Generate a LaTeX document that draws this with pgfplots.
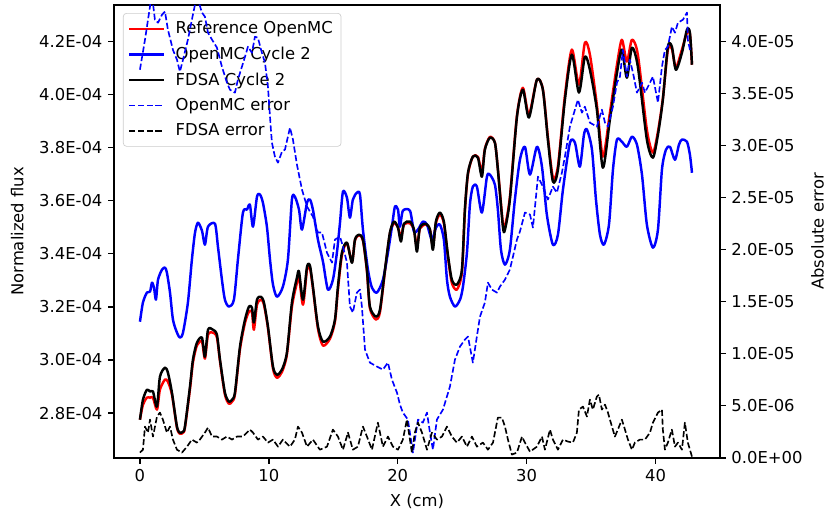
\documentclass[border=0pt]{standalone}
\usepackage{fontspec}
\setmainfont{DejaVu Sans}
\usepackage{pgfplots}
\usepackage{pgfplotstable}
\pgfplotsset{compat=1.18}

% Flux profiles (x in cm, flux in units of 1E-04)
\pgfplotstableread{
x y
0.00 2.775
0.23 2.831
0.54 2.858
0.78 2.858
1.01 2.858
1.32 2.813
1.55 2.888
1.94 2.926
2.17 2.918
2.48 2.870
2.87 2.745
3.10 2.722
3.34 2.726
3.49 2.745
3.88 2.890
4.11 2.990
4.42 3.055
4.81 3.069
5.04 3.005
5.28 3.095
5.66 3.103
5.97 3.085
6.21 2.995
6.59 2.870
6.90 2.835
7.14 2.843
7.37 2.870
7.76 3.040
8.15 3.140
8.46 3.182
8.69 3.180
8.84 3.114
9.08 3.208
9.39 3.227
9.62 3.208
9.93 3.120
10.32 2.968
10.63 2.933
11.02 2.955
11.40 3.020
11.79 3.200
12.18 3.291
12.34 3.315
12.65 3.208
12.96 3.340
13.19 3.345
13.42 3.270
13.81 3.118
14.20 3.054
14.74 3.080
15.13 3.145
15.36 3.265
15.67 3.395
16.06 3.440
16.45 3.370
16.68 3.450
16.99 3.470
17.30 3.450
17.61 3.335
17.84 3.195
18.31 3.152
18.62 3.180
19.01 3.335
19.39 3.475
19.71 3.515
20.02 3.500
20.25 3.460
20.48 3.510
20.95 3.515
21.26 3.490
21.49 3.425
21.72 3.495
22.19 3.510
22.50 3.490
22.73 3.430
22.96 3.515
23.27 3.548
23.58 3.515
23.89 3.390
24.20 3.290
24.59 3.265
24.98 3.330
25.21 3.560
25.45 3.700
25.83 3.766
26.22 3.765
26.53 3.709
26.76 3.795
27.15 3.840
27.54 3.818
27.77 3.720
28.16 3.512
28.32 3.505
28.70 3.612
29.25 3.920
29.71 4.025
30.18 3.924
30.80 4.056
31.26 4.020
31.65 3.840
32.04 3.687
32.43 3.730
32.97 3.995
33.51 4.169
34.06 4.037
34.52 4.195
34.91 4.150
35.45 3.961
35.92 3.766
36.46 3.930
37.01 4.112
37.39 4.206
37.78 4.124
38.17 4.206
38.63 4.150
39.33 3.867
39.80 3.781
40.19 3.860
40.57 3.985
40.96 4.169
41.27 4.172
41.58 4.101
42.05 4.169
42.44 4.233
42.67 4.228
42.83 4.112
}\refflux

\pgfplotstableread{
x y
0.00 3.144
0.23 3.216
0.54 3.254
0.78 3.257
0.93 3.291
1.09 3.272
1.24 3.227
1.40 3.302
1.71 3.340
1.94 3.348
2.09 3.329
2.33 3.254
2.56 3.152
2.87 3.103
3.10 3.084
3.34 3.103
3.72 3.216
4.03 3.378
4.27 3.479
4.50 3.517
4.81 3.487
5.04 3.434
5.28 3.502
5.82 3.513
6.05 3.427
6.36 3.302
6.59 3.227
6.90 3.201
7.29 3.227
7.60 3.378
7.99 3.555
8.30 3.566
8.53 3.585
8.77 3.502
9.08 3.615
9.31 3.623
9.54 3.592
9.85 3.502
10.09 3.378
10.32 3.284
10.63 3.238
11.09 3.276
11.48 3.378
11.79 3.604
12.02 3.615
12.34 3.566
12.57 3.491
12.96 3.592
13.19 3.604
13.42 3.566
13.81 3.453
14.20 3.370
14.58 3.265
14.97 3.302
15.28 3.404
15.52 3.517
15.75 3.634
16.06 3.611
16.29 3.536
16.52 3.604
16.83 3.630
17.07 3.623
17.30 3.491
17.69 3.340
18.00 3.272
18.39 3.254
18.85 3.302
19.24 3.404
19.55 3.502
19.78 3.577
20.02 3.566
20.17 3.502
20.40 3.562
20.95 3.562
21.26 3.483
21.57 3.491
21.95 3.521
22.27 3.510
22.65 3.453
22.96 3.498
23.27 3.510
23.58 3.453
23.82 3.302
24.05 3.238
24.44 3.201
24.83 3.227
25.06 3.276
25.37 3.404
25.60 3.585
25.83 3.653
26.14 3.653
26.53 3.555
26.92 3.690
27.15 3.698
27.54 3.660
27.77 3.566
28.01 3.415
28.32 3.359
28.70 3.415
29.09 3.604
29.48 3.754
29.87 3.803
30.26 3.698
30.80 3.803
31.19 3.728
31.57 3.547
32.04 3.434
32.43 3.472
32.82 3.642
33.36 3.818
33.75 3.818
34.13 3.728
34.45 3.849
34.68 3.868
35.07 3.792
35.38 3.604
35.69 3.472
36.00 3.434
36.39 3.510
36.70 3.717
37.01 3.830
37.39 3.822
37.78 3.803
38.17 3.841
38.56 3.811
38.95 3.698
39.33 3.510
39.80 3.423
40.19 3.491
40.50 3.717
40.81 3.792
41.12 3.803
41.51 3.754
41.82 3.811
42.05 3.830
42.44 3.822
42.67 3.773
42.83 3.705
}\mcflux

\pgfplotstableread{
x y
0.00 2.775
0.23 2.850
0.54 2.888
0.78 2.881
1.01 2.881
1.32 2.824
1.55 2.937
1.94 2.971
2.17 2.952
2.48 2.877
2.87 2.749
3.10 2.726
3.34 2.730
3.49 2.749
3.88 2.899
4.11 3.001
4.42 3.065
4.81 3.084
5.04 3.012
5.28 3.114
5.66 3.114
5.97 3.095
6.21 3.001
6.59 2.877
6.90 2.843
7.14 2.850
7.37 2.877
7.76 3.050
8.15 3.152
8.46 3.201
8.69 3.197
8.84 3.141
9.08 3.227
9.39 3.238
9.62 3.216
9.93 3.126
10.32 2.975
10.63 2.944
11.02 2.964
11.40 3.027
11.79 3.216
12.18 3.310
12.34 3.333
12.65 3.227
12.96 3.351
13.19 3.355
13.42 3.276
13.81 3.126
14.20 3.069
14.74 3.088
15.13 3.152
15.36 3.276
15.67 3.404
16.06 3.442
16.45 3.366
16.68 3.453
16.99 3.472
17.30 3.453
17.61 3.340
17.84 3.201
18.31 3.163
18.62 3.189
19.01 3.340
19.39 3.479
19.71 3.521
20.02 3.498
20.25 3.446
20.48 3.513
20.95 3.521
21.26 3.491
21.49 3.408
21.72 3.498
22.19 3.513
22.50 3.491
22.73 3.415
22.96 3.521
23.27 3.555
23.58 3.521
23.89 3.397
24.20 3.302
24.59 3.284
24.98 3.340
25.21 3.566
25.45 3.705
25.83 3.766
26.22 3.762
26.53 3.690
26.76 3.792
27.15 3.837
27.54 3.818
27.77 3.717
28.16 3.502
28.32 3.491
28.70 3.604
29.25 3.916
29.71 4.018
30.18 3.913
30.80 4.056
31.26 4.018
31.65 3.830
32.04 3.672
32.43 3.717
32.97 3.980
33.51 4.150
34.06 4.007
34.52 4.142
34.91 4.093
35.45 3.943
35.92 3.724
36.46 3.905
37.01 4.082
37.39 4.169
37.78 4.063
38.17 4.176
38.63 4.105
39.33 3.830
39.80 3.762
40.19 3.849
40.57 3.980
40.96 4.180
41.27 4.180
41.58 4.093
42.05 4.157
42.44 4.244
42.67 4.233
42.83 4.112
}\fdsaflux

% Absolute errors (x in cm, error in units of 1E-05)
\pgfplotstableread{
x y
0.00 3.728
0.39 4.016
0.78 4.335
0.93 4.450
1.16 4.208
1.40 4.179
1.71 4.256
1.94 4.285
2.17 4.112
2.56 3.918
2.87 3.824
3.10 3.709
3.34 3.824
3.72 4.016
4.03 4.208
4.27 4.353
4.50 4.400
4.81 4.276
5.04 4.237
5.28 4.083
5.59 4.016
5.97 3.940
6.36 3.756
6.75 3.603
6.98 3.536
7.37 3.507
7.60 3.632
7.91 3.756
8.15 3.852
8.38 3.949
8.69 3.890
8.92 4.044
9.15 4.035
9.46 3.890
9.70 3.795
9.93 3.564
10.16 3.152
10.24 3.027
10.47 2.893
10.71 2.835
11.02 2.941
11.25 2.960
11.64 3.171
11.87 3.056
12.18 2.816
12.57 2.576
12.96 2.414
13.42 2.317
13.81 2.164
14.12 2.164
14.51 1.971
14.90 1.875
15.13 2.097
15.52 2.125
15.75 2.030
16.06 1.875
16.29 1.453
16.52 1.395
16.83 1.587
17.07 1.616
17.22 1.453
17.46 1.040
17.84 0.915
18.39 0.877
18.85 0.848
19.24 0.915
19.55 0.752
19.94 0.627
20.17 0.512
20.40 0.435
20.79 0.368
21.18 0.051
21.57 0.368
21.95 0.339
22.27 0.435
22.50 0.243
22.73 0.079
23.04 0.368
23.51 0.464
24.05 0.685
24.44 0.944
24.83 1.069
25.21 1.136
25.45 1.165
25.83 0.915
26.14 1.165
26.38 1.356
26.76 1.491
27.00 1.683
27.31 1.616
27.70 1.587
27.93 1.645
28.32 1.712
28.70 1.808
28.94 1.933
29.25 2.097
29.48 2.173
29.87 2.356
30.26 2.337
30.49 2.212
30.88 2.701
31.26 2.605
31.65 2.481
32.04 2.605
32.35 2.547
32.74 2.740
32.97 2.893
33.36 3.181
33.75 3.344
33.98 3.440
34.29 3.315
34.52 3.373
34.91 3.219
35.45 3.181
35.84 3.344
36.08 3.219
36.31 3.181
36.70 3.373
37.01 3.603
37.24 3.661
37.47 3.918
37.78 3.661
38.01 3.824
38.25 3.699
38.56 3.507
38.95 3.603
39.18 3.507
39.57 3.603
39.80 3.661
40.19 3.411
40.50 3.756
40.73 3.918
40.96 3.949
41.27 4.140
41.51 4.083
41.74 4.179
42.13 4.208
42.44 4.276
42.51 4.016
42.67 3.918
}\mcerr

\pgfplotstableread{
x y
0.00 0.051
0.23 0.079
0.39 0.301
0.62 0.243
0.78 0.368
1.01 0.205
1.32 0.397
1.55 0.435
1.78 0.368
2.09 0.243
2.33 0.301
2.56 0.176
2.87 0.079
3.26 0.051
3.65 0.108
4.03 0.176
4.42 0.147
4.65 0.176
5.04 0.243
5.28 0.291
5.59 0.205
5.97 0.205
6.36 0.176
6.75 0.205
7.14 0.176
7.53 0.205
7.99 0.205
8.53 0.272
8.77 0.243
9.15 0.176
9.54 0.205
9.93 0.147
10.32 0.176
10.71 0.108
11.09 0.176
11.64 0.108
12.02 0.176
12.26 0.301
12.57 0.243
12.96 0.108
13.42 0.176
13.96 0.079
14.51 0.108
14.97 0.272
15.36 0.205
15.75 0.079
16.14 0.243
16.52 0.079
16.91 0.108
17.30 0.301
17.61 0.205
18.00 0.079
18.46 0.339
18.85 0.108
19.24 0.205
19.63 0.108
20.02 0.079
20.40 0.176
20.71 0.368
21.10 0.051
21.33 0.243
21.57 0.339
21.88 0.243
22.27 0.079
22.65 0.243
23.04 0.176
23.43 0.205
23.82 0.301
24.20 0.205
24.59 0.147
24.98 0.205
25.37 0.108
25.76 0.205
26.14 0.108
26.61 0.147
27.00 0.079
27.39 0.147
27.77 0.387
28.08 0.387
28.32 0.301
28.55 0.176
28.86 0.032
29.25 0.051
29.64 0.205
29.87 0.147
30.26 0.060
30.80 0.108
31.19 0.205
31.42 0.079
31.81 0.272
32.04 0.176
32.43 0.079
32.82 0.176
33.20 0.157
33.59 0.147
33.90 0.243
34.06 0.464
34.37 0.493
34.68 0.397
34.91 0.560
35.14 0.464
35.45 0.589
35.61 0.608
35.84 0.464
36.08 0.512
36.31 0.435
36.62 0.301
36.85 0.205
37.08 0.272
37.39 0.368
37.63 0.272
37.86 0.176
38.17 0.079
38.40 0.147
38.79 0.176
39.18 0.176
39.57 0.243
39.80 0.339
40.19 0.435
40.50 0.464
40.57 0.272
40.73 0.079
40.96 0.147
41.27 0.272
41.51 0.108
41.74 0.147
42.05 0.079
42.28 0.339
42.51 0.147
42.83 0.012
}\fdsaerr

\pgfplotsset{
  twinbase/.style={
    at={(0,0)}, anchor=south west,
    scale only axis, width=369.7pt, height=276.3pt,
    xmin=-2.02, xmax=45.0,
    tick align=outside,
    major tick length=3.5pt,
    every tick/.style={black, line width=0.8pt},
    axis line style={line width=0.8pt},
    tick label style={font=\normalsize},
    label style={font=\normalsize},
  },
  solidline/.style={line width=1.5pt, line join=round, smooth, tension=0.45},
  errline/.style={line width=1pt, line join=round, dash pattern=on 3.7pt off 1.6pt},
}

\begin{document}
\begin{tikzpicture}
\begin{axis}[
  twinbase,
  ymin=2.631, ymax=4.337,
  xtick={0,10,20,30,40},
  xtick pos=bottom, ytick pos=left,
  /pgf/number format/assume math mode=true,
  ytick={2.8,3.0,3.2,3.4,3.6,3.8,4.0,4.2},
  yticklabels={2.8E-04,3.0E-04,3.2E-04,3.4E-04,3.6E-04,3.8E-04,4.0E-04,4.2E-04},
  xlabel={X (cm)},
  ylabel={Normalized flux},
  xlabel style={at={(axis description cs:0.5,-0.097)}, anchor=center},
  ylabel style={at={(axis description cs:-0.1596,0.5)}, anchor=center},
  legend cell align=left,
  legend image code/.code={\draw[#1] (0pt,0pt) -- (21pt,0pt);},
  legend style={
    at={(axis description cs:0.0149,0.9823)}, anchor=north west,
    draw=black!20, fill=white, fill opacity=0.8, text opacity=1,
    rounded corners=2pt, font=\normalsize,
    inner xsep=3pt, inner ysep=3pt, row sep=2.5pt,
    /tikz/every odd column/.append style={column sep=4.5pt},
  },
]
\addplot[red, solidline] table {\refflux};
\addlegendentry{Reference OpenMC}
\addplot[blue, solidline] table {\mcflux};
\addlegendentry{OpenMC Cycle 2}
\addplot[black, solidline] table {\fdsaflux};
\addlegendentry{FDSA Cycle 2}
\addlegendimage{blue, errline}
\addlegendentry{OpenMC error}
\addlegendimage{black, errline}
\addlegendentry{FDSA error}
\end{axis}

\begin{axis}[
  twinbase,
  ymin=0, ymax=4.349,
  axis x line=none,
  axis y line*=right,
  ytick={0,0.5,1,1.5,2,2.5,3,3.5,4},
  yticklabels={0.0E+00,5.0E-06,1.0E-05,1.5E-05,2.0E-05,2.5E-05,3.0E-05,3.5E-05,4.0E-05},
  ylabel={Absolute error},
  ylabel style={at={(axis description cs:1.161,0.5)}, anchor=center},
]
\addplot[blue, errline] table {\mcerr};
\addplot[black, errline] table {\fdsaerr};
\end{axis}

\pgfresetboundingbox
\path (-69.5pt,-36.0pt) rectangle (435.0pt,279.35pt);
\end{tikzpicture}
\end{document}
